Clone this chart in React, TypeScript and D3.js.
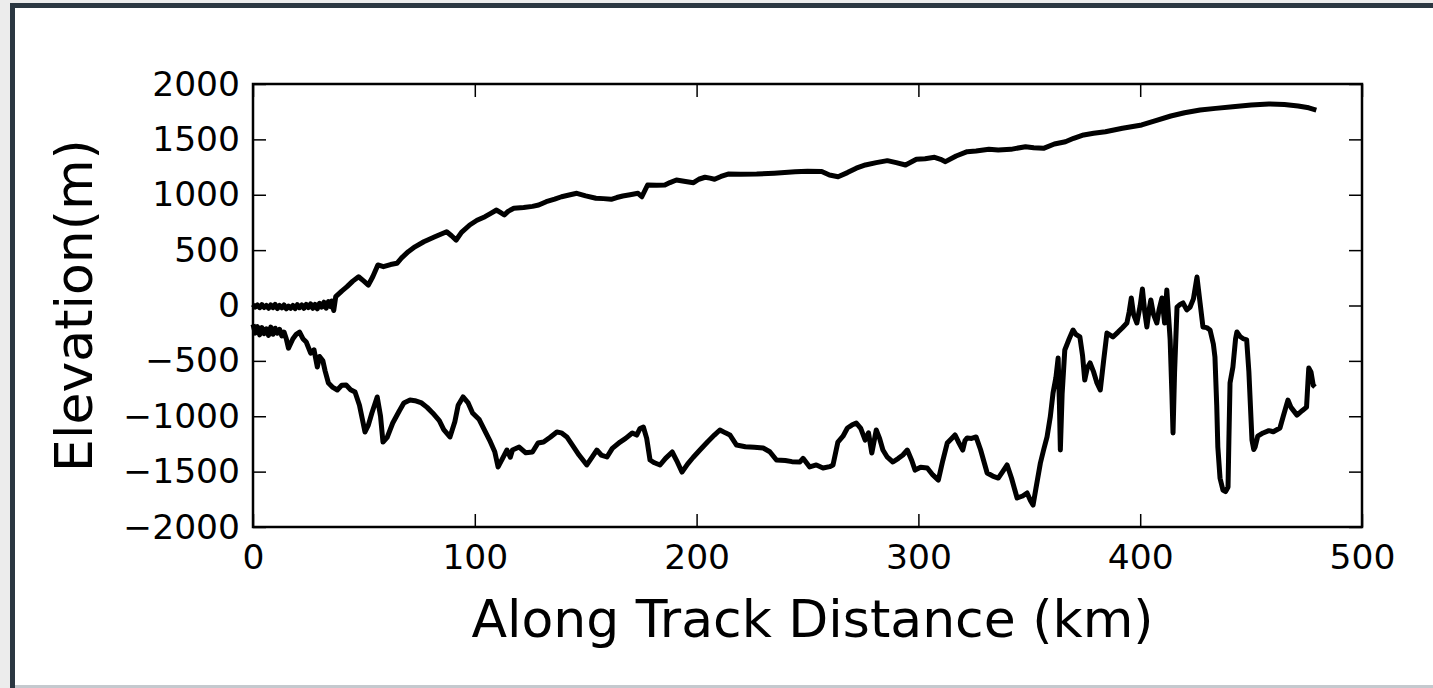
import React, { useEffect, useRef } from "react";
import * as d3 from "d3";

// surface elevation (upper trace)
const surfaceKm = [0, 1, 2, 3, 4, 5, 6, 7, 8, 9, 10, 11, 12, 13, 14, 15, 16, 17, 18, 19, 20, 21, 22, 23, 24, 25, 26, 27, 28, 29, 30, 31, 32, 33, 34, 35, 35.5, 36.4, 37.3, 40, 42.4, 45, 47.6, 50, 52, 54, 56.3, 58.8, 62, 64.9, 67, 70, 73, 77, 82, 87.3, 89.5, 91.6, 94, 97.7, 101, 104.6, 107, 109.8, 111.5, 113.3, 115, 117.6, 122, 126, 128.8, 132.2, 136, 139.1, 143, 146, 150, 154.6, 158, 161.5, 164, 166.7, 170, 173.6, 175.3, 177.9, 182, 185.7, 188, 190.9, 195, 198.6, 201, 203.8, 206, 208.1, 211, 214.2, 220, 227.1, 235, 244.4, 250, 256.4, 259.9, 263.8, 268, 272, 276.1, 281, 286, 290, 294.2, 299.1, 303, 307.3, 310, 312.2, 317, 322, 326, 331.8, 336, 341.7, 348.3, 352, 356.4, 361.3, 366.3, 370, 374.5, 379, 384.3, 392, 400.7, 407, 413.8, 420, 427, 434, 441.7, 450, 458, 465, 471.2, 476, 479.4];
const surfaceElev = [10, -15, 5, -20, 8, -18, 0, -25, 5, -20, 10, -28, 0, -22, 5, -30, -5, -25, 0, -28, 8, -20, 5, -25, 10, -18, 15, -25, 10, -30, 20, -15, 30, -25, 35, -10, 40, -45, 80, 130, 170, 220, 260, 220, 185, 260, 366, 350, 370, 381, 430, 486, 530, 576, 620, 666, 630, 591, 660, 727, 770, 802, 830, 862, 840, 817, 850, 878, 885, 895, 907, 937, 960, 982, 1000, 1013, 990, 968, 965, 959, 975, 989, 1000, 1013, 982, 1088, 1085, 1088, 1110, 1133, 1120, 1109, 1140, 1158, 1150, 1140, 1165, 1187, 1185, 1187, 1195, 1208, 1212, 1210, 1178, 1163, 1200, 1240, 1269, 1290, 1308, 1290, 1269, 1320, 1325, 1338, 1320, 1299, 1350, 1389, 1395, 1410, 1405, 1410, 1434, 1425, 1419, 1458, 1479, 1510, 1540, 1555, 1569, 1600, 1630, 1670, 1711, 1740, 1765, 1780, 1795, 1810, 1820, 1815, 1801, 1785, 1765];

// bed elevation (lower trace)
const bedKm = [0, 1, 2, 3, 4, 5, 6, 7, 8, 9, 10, 11, 12, 13, 14, 15, 16, 18, 19.5, 21, 22.5, 24, 26, 27.5, 29, 30, 31.5, 32.5, 34, 36, 38, 40, 42, 44, 46, 48, 50.5, 52, 53.6, 56, 57.5, 58.6, 60.5, 63, 66, 68, 70.8, 73, 76, 78.5, 81, 84, 86, 88.8, 91, 92.5, 94.7, 97, 99, 102, 105, 107, 109, 110.5, 112, 114.5, 116, 117, 120, 123, 126, 128.5, 131, 134, 137, 139, 141.5, 144, 147, 150.5, 152.5, 155, 157, 159.6, 162, 165.5, 168, 171, 173, 174.5, 176, 177.5, 179, 181, 183.5, 186, 189, 191, 193.4, 196, 198.5, 201.5, 205, 208, 210.5, 213, 215, 218, 222, 226, 230, 233, 236, 240, 243, 246.6, 248, 251, 254, 257, 260, 261.5, 263.7, 266, 268, 270, 272, 274, 276, 277.5, 279, 281, 282.5, 284, 286, 288.5, 291, 293, 295, 297, 298.5, 301, 304, 306.5, 309, 311, 313, 315, 316.5, 318, 320, 321, 322, 324, 326, 328, 331, 333.5, 336, 338, 340, 342, 344.5, 347, 349, 350.5, 351.7, 353, 355, 356.5, 358, 359.5, 360.7, 362, 363, 363.6, 364, 364.8, 366, 368, 369.7, 371, 372.8, 374, 375, 376.2, 377.4, 379, 380.5, 382, 383.5, 385, 387.7, 390, 392, 394, 395, 396, 397, 398.5, 400, 401, 402, 403, 404, 404.8, 406, 407.5, 408.5, 409.8, 410.5, 411, 412, 413.5, 414.3, 414.8, 415.5, 416.6, 418, 419.3, 421, 422.5, 424, 425.6, 427, 428.3, 430, 431.5, 433, 433.7, 434.5, 435, 436, 437.3, 438.5, 439.6, 440, 440.5, 441.8, 443, 443.6, 445, 446.5, 448, 449, 450.4, 451.2, 451.8, 453, 455.4, 458, 460, 463, 464.5, 466.6, 468, 470.7, 473, 475, 475.6, 476, 477, 478, 478.8];
const bedElev = [-170, -250, -190, -265, -200, -255, -210, -270, -195, -260, -205, -250, -215, -275, -240, -300, -385, -300, -260, -240, -300, -330, -430, -400, -555, -460, -500, -590, -700, -740, -763, -720, -718, -760, -781, -900, -1142, -1080, -970, -826, -1000, -1233, -1190, -1061, -950, -880, -854, -860, -880, -920, -970, -1040, -1120, -1187, -1050, -900, -826, -880, -970, -1030, -1151, -1230, -1320, -1458, -1400, -1305, -1370, -1305, -1278, -1330, -1323, -1242, -1233, -1190, -1142, -1150, -1187, -1260, -1350, -1440, -1380, -1305, -1350, -1368, -1290, -1233, -1200, -1151, -1170, -1110, -1097, -1200, -1395, -1420, -1440, -1380, -1323, -1400, -1504, -1430, -1370, -1305, -1230, -1170, -1124, -1150, -1169, -1260, -1275, -1280, -1287, -1320, -1395, -1400, -1410, -1413, -1380, -1458, -1440, -1467, -1455, -1440, -1233, -1180, -1106, -1080, -1061, -1110, -1215, -1150, -1332, -1124, -1200, -1305, -1370, -1413, -1380, -1350, -1305, -1400, -1486, -1460, -1467, -1530, -1576, -1400, -1242, -1200, -1169, -1230, -1305, -1220, -1196, -1200, -1187, -1300, -1512, -1540, -1558, -1500, -1440, -1560, -1738, -1720, -1693, -1760, -1802, -1650, -1422, -1300, -1187, -1000, -790, -650, -474, -900, -1305, -800, -402, -300, -221, -260, -284, -450, -673, -560, -519, -600, -700, -763, -500, -248, -284, -240, -200, -158, -60, 68, -80, -158, 0, 149, -50, -194, -40, 50, -80, -158, -40, 68, -60, -158, 140, -311, -800, -1151, -600, -14, 10, 23, -40, -14, 60, 257, 23, -194, -200, -221, -350, -465, -900, -1278, -1560, -1666, -1680, -1639, -1200, -700, -555, -300, -239, -280, -300, -311, -600, -1215, -1300, -1278, -1180, -1151, -1130, -1140, -1106, -1000, -854, -920, -990, -950, -917, -700, -565, -600, -720, -736];

const xTicks = [0, 100, 200, 300, 400, 500];
const yTicks = [-2000, -1500, -1000, -500, 0, 500, 1000, 1500, 2000];

const xLabel = "Along Track Distance (km)";
const yLabel = "Elevation(m)";

const W = 1433;
const H = 688;
const plot = { left: 253, top: 84, right: 1362, bottom: 527 };
const FONT = "DejaVu Sans, sans-serif";

export default function App() {
  const ref = useRef<SVGSVGElement | null>(null);

  useEffect(() => {
    const svg = d3.select(ref.current);
    svg.selectAll("*").remove();

    // page frame around the screenshot
    svg.append("rect").attr("width", W).attr("height", H).attr("fill", "#ececec");
    svg.append("rect").attr("x", 10).attr("y", 3).attr("width", W - 10).attr("height", H - 3).attr("fill", "#2b3741");
    svg.append("rect").attr("x", 15).attr("y", 8).attr("width", W - 15).attr("height", H - 11).attr("fill", "#ffffff");
    svg.append("rect").attr("x", 15).attr("y", H - 3).attr("width", W - 15).attr("height", 3).attr("fill", "#c4c9ce");

    const x = d3.scaleLinear().domain([0, 500]).range([plot.left, plot.right]);
    const y = d3.scaleLinear().domain([-2000, 2000]).range([plot.bottom, plot.top]);

    const tickLen = 13;
    const fmt = (d: d3.NumberValue) => d3.format("d")(d as number).replace("-", "\u2212");

    const styleAxis = (g: d3.Selection<SVGGElement, unknown, null, undefined>) => {
      g.select(".domain").remove();
      g.selectAll("line").attr("stroke", "#000").attr("stroke-width", 1.5);
      g.selectAll("text").attr("fill", "#000").attr("font-size", 34.5).attr("font-family", FONT);
    };

    svg.append("g")
      .attr("transform", `translate(0,${plot.bottom})`)
      .call(d3.axisBottom(x).tickValues(xTicks).tickSize(-tickLen).tickPadding(18).tickFormat(fmt))
      .call(styleAxis);
    svg.append("g")
      .attr("transform", `translate(0,${plot.top})`)
      .call(d3.axisTop(x).tickValues(xTicks).tickSize(-tickLen).tickFormat(() => ""))
      .call(styleAxis);
    svg.append("g")
      .attr("transform", `translate(${plot.left},0)`)
      .call(d3.axisLeft(y).tickValues(yTicks).tickSize(-tickLen).tickPadding(13).tickFormat(fmt))
      .call(styleAxis);
    svg.append("g")
      .attr("transform", `translate(${plot.right},0)`)
      .call(d3.axisRight(y).tickValues(yTicks).tickSize(-tickLen).tickFormat(() => ""))
      .call(styleAxis);

    const line = d3.line<[number, number]>()
      .x((d) => x(d[0]))
      .y((d) => y(d[1]));

    const surface = surfaceKm.map((k, i) => [k, surfaceElev[i]] as [number, number]);
    const bed = bedKm.map((k, i) => [k, bedElev[i]] as [number, number]);

    [surface, bed].forEach((s) => {
      svg.append("path")
        .datum(s)
        .attr("fill", "none")
        .attr("stroke", "#000")
        .attr("stroke-width", 5)
        .attr("stroke-linejoin", "round")
        .attr("d", line);
    });

    // spines
    svg.append("rect")
      .attr("x", plot.left).attr("y", plot.top)
      .attr("width", plot.right - plot.left).attr("height", plot.bottom - plot.top)
      .attr("fill", "none").attr("stroke", "#000").attr("stroke-width", 2.5);

    svg.append("text")
      .attr("x", (plot.left + plot.right) / 2 + 5)
      .attr("y", 637)
      .attr("text-anchor", "middle")
      .attr("font-family", FONT)
      .attr("font-size", 52)
      .attr("fill", "#000")
      .text(xLabel);

    svg.append("text")
      .attr("transform", `translate(92,${(plot.top + plot.bottom) / 2}) rotate(-90)`)
      .attr("text-anchor", "middle")
      .attr("font-family", FONT)
      .attr("font-size", 52)
      .attr("fill", "#000")
      .text(yLabel);
  }, []);

  return (
    <div style={{ position: "absolute", left: 0, top: 0 }}>
      <svg ref={ref} width={W} height={H} style={{ display: "block" }} />
    </div>
  );
}
